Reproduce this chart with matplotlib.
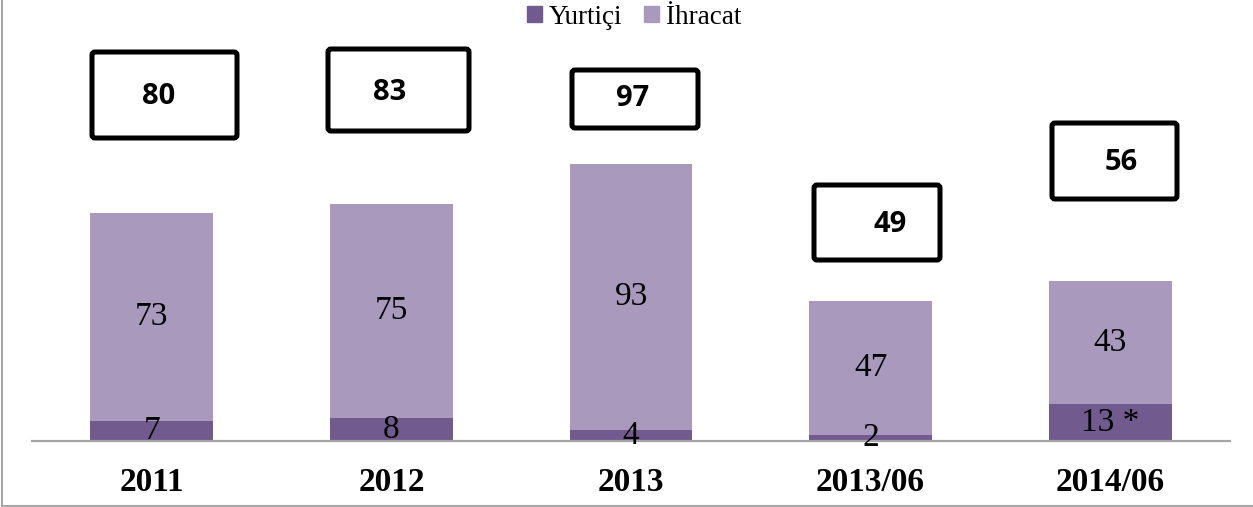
import matplotlib.pyplot as plt
import matplotlib.transforms as mtransforms
from matplotlib.patches import FancyBboxPatch
from matplotlib.lines import Line2D

categories = ['2011', '2012', '2013', '2013/06', '2014/06']
yurtici = [7, 8, 4, 2, 13]
ihracat = [73, 75, 93, 47, 43]
yurtici_labels = ['7', '8', '4', '2', '13 *']
totals = [80, 83, 97, 49, 56]

dark = '#715A8E'
light = '#A99ABD'

W, H, DPI = 1253, 507, 100
fig = plt.figure(figsize=(W / DPI, H / DPI), dpi=DPI)

# pixel helper: top-left origin, display pixels
px = mtransforms.Affine2D().scale(1 / DPI, -1 / DPI).translate(0, H / DPI) + fig.dpi_scale_trans

ax_left, ax_right, ax_base, ax_top = 32, 1230, 441, 40
ax = fig.add_axes([ax_left / W, 1 - ax_base / H, (ax_right - ax_left) / W, (ax_base - ax_top) / H])

x = range(len(categories))
ax.bar(x, yurtici, width=0.513, color=dark, zorder=2)
ax.bar(x, ihracat, width=0.513, bottom=yurtici, color=light, zorder=2)
ax.set_xlim(-0.5, len(categories) - 0.5)
ax.set_ylim(0, (ax_base - ax_top) / 2.855)

serif = 'Liberation Serif'
for i in x:
    ax.text(i, yurtici[i] / 2, yurtici_labels[i], ha='center', va='center',
            fontsize=24, family=serif, zorder=3)
    ax.text(i, yurtici[i] + ihracat[i] / 2, str(ihracat[i]), ha='center', va='center',
            fontsize=24, family=serif, zorder=3)

for s in ['top', 'right', 'left']:
    ax.spines[s].set_visible(False)
ax.spines['bottom'].set_color('#a6a6a6')
ax.spines['bottom'].set_linewidth(1.6)
ax.set_yticks([])
ax.set_xticks(list(x))
ax.set_xticklabels(categories, fontsize=24, family=serif, fontweight='bold')
ax.tick_params(axis='x', length=0, pad=19)

# total boxes (left, top, right, bottom in px) and text centres
boxes = [(92, 52, 237, 138), (328, 49, 469, 131), (572, 70, 698, 128),
         (814, 185, 940, 260), (1052, 123, 1177, 199)]
box_text = [(159, 97), (390, 92), (633, 99), (890, 224), (1121, 162)]
for (l, t, r, b), (tx, ty), v in zip(boxes, box_text, totals):
    fig.patches.append(FancyBboxPatch((l, t), r - l, b - t,
                                      boxstyle='round,pad=0,rounding_size=3',
                                      transform=px, fill=False, edgecolor='black',
                                      linewidth=3.6))
    fig.text(tx, ty, str(v), transform=px, ha='center', va='center',
             fontsize=21, fontweight='bold', family=['Open Sans', 'DejaVu Sans'])

# outer frame
fig.lines.append(Line2D([1.5, 1.5], [0, 505.5], transform=px, color='#a6a6a6', linewidth=1.5))
fig.lines.append(Line2D([1.5, W], [505.5, 505.5], transform=px, color='#a6a6a6', linewidth=1.5))

leg = fig.legend(handles=[plt.Rectangle((0, 0), 1, 1, color=dark),
                          plt.Rectangle((0, 0), 1, 1, color=light)],
                 labels=['Yurtiçi', 'İhracat'], loc='center', ncol=2,
                 bbox_to_anchor=(634 / W, 1 - 17 / H), frameon=False,
                 prop={'family': serif, 'size': 19.5},
                 handlelength=0.55, handleheight=0.55, handletextpad=0.26,
                 columnspacing=0.8, borderpad=0)

fig.savefig('out.png', dpi=DPI)
